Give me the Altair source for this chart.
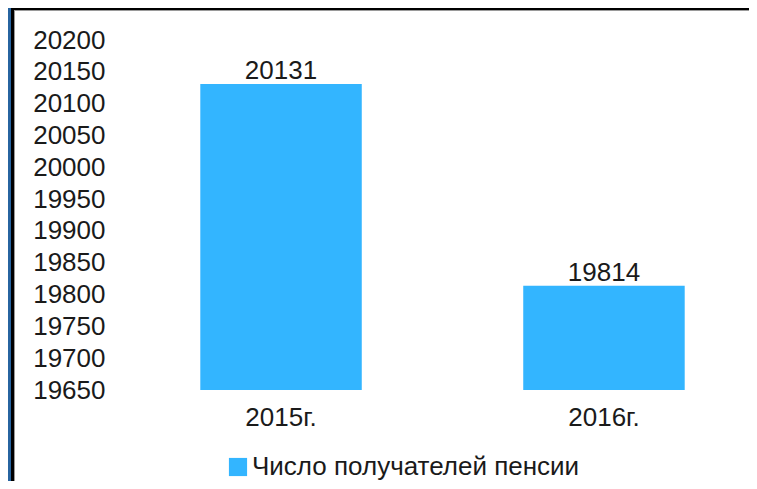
import altair as alt
import pandas as pd

years = ["2015г.", "2016г."]
values = [20131, 19814]
series = ["Число получателей пенсии", "Число получателей пенсии"]
y_ticks = list(range(19650, 20201, 50))

df = pd.DataFrame({"year": years, "value": values, "series": series})

FONT = "Liberation Sans"
FS = 26
BAR = "#33B5FF"

x_enc = alt.X("year:N", sort=years, title=None,
              scale=alt.Scale(paddingInner=0.5, paddingOuter=0.1),
              axis=alt.Axis(labelAngle=0, domain=False, ticks=False,
                            labelPadding=14, labelFontSize=FS, labelFont=FONT,
                            labelColor="#1a1a1a"))
y_enc = alt.Y("value:Q", title=None,
              scale=alt.Scale(domain=[19650, 20200], nice=False, zero=False),
              axis=alt.Axis(values=y_ticks, format="d", labelOverlap=False,
                            domain=False, ticks=False, grid=False,
                            labelPadding=63, labelFontSize=FS, labelFont=FONT,
                            labelColor="#1a1a1a", labelAlign="right",
                            labelBaseline="middle", labelFlush=False))

base = alt.Chart(df)

bars = base.mark_bar(color=BAR, clip=True).encode(
    x=x_enc,
    y=y_enc,
    color=alt.Color("series:N", title=None,
                    scale=alt.Scale(range=[BAR]),
                    legend=alt.Legend(orient="none", legendX=57, legendY=414,
                                      symbolType="square", symbolSize=330,
                                      symbolStrokeWidth=0, symbolOpacity=1,
                                      labelFontSize=FS, labelFont=FONT,
                                      labelColor="#1a1a1a", padding=0,
                                      labelOffset=1, labelLimit=0)),
)

text = base.mark_text(baseline="alphabetic", dy=-5, font=FONT, fontSize=FS,
                      color="#1a1a1a").encode(
    x=x_enc,
    y=y_enc,
    text=alt.Text("value:Q", format="d"),
)

frame_df = pd.DataFrame({"k": [0]})
blue_left = alt.Chart(frame_df).mark_rect(color="#2764A0").encode(
    x=alt.value(-160), x2=alt.value(-157), y=alt.value(-32), y2=alt.value(441))
black_left = alt.Chart(frame_df).mark_rect(color="#000000").encode(
    x=alt.value(-157), x2=alt.value(-154), y=alt.value(-32), y2=alt.value(441))
black_top = alt.Chart(frame_df).mark_rect(color="#000000").encode(
    x=alt.value(-157), x2=alt.value(581), y=alt.value(-32), y2=alt.value(-30))
gray_top = alt.Chart(frame_df).mark_rect(color="#9a9a9a").encode(
    x=alt.value(-154), x2=alt.value(581), y=alt.value(-30), y2=alt.value(-29))
gray_left = alt.Chart(frame_df).mark_rect(color="#9a9a9a").encode(
    x=alt.value(-154), x2=alt.value(-153), y=alt.value(-30), y2=alt.value(441))

chart = alt.layer(bars, text, blue_left, black_left, black_top, gray_top, gray_left).properties(
    width=549, height=350,
    padding={"left": 160, "top": 32, "right": 32, "bottom": 91},
    autosize=alt.AutoSizeParams(type="none"),
    background="white",
).configure_view(stroke=None)

chart.save("out.html", embed_options={"renderer": "svg", "actions": False})
